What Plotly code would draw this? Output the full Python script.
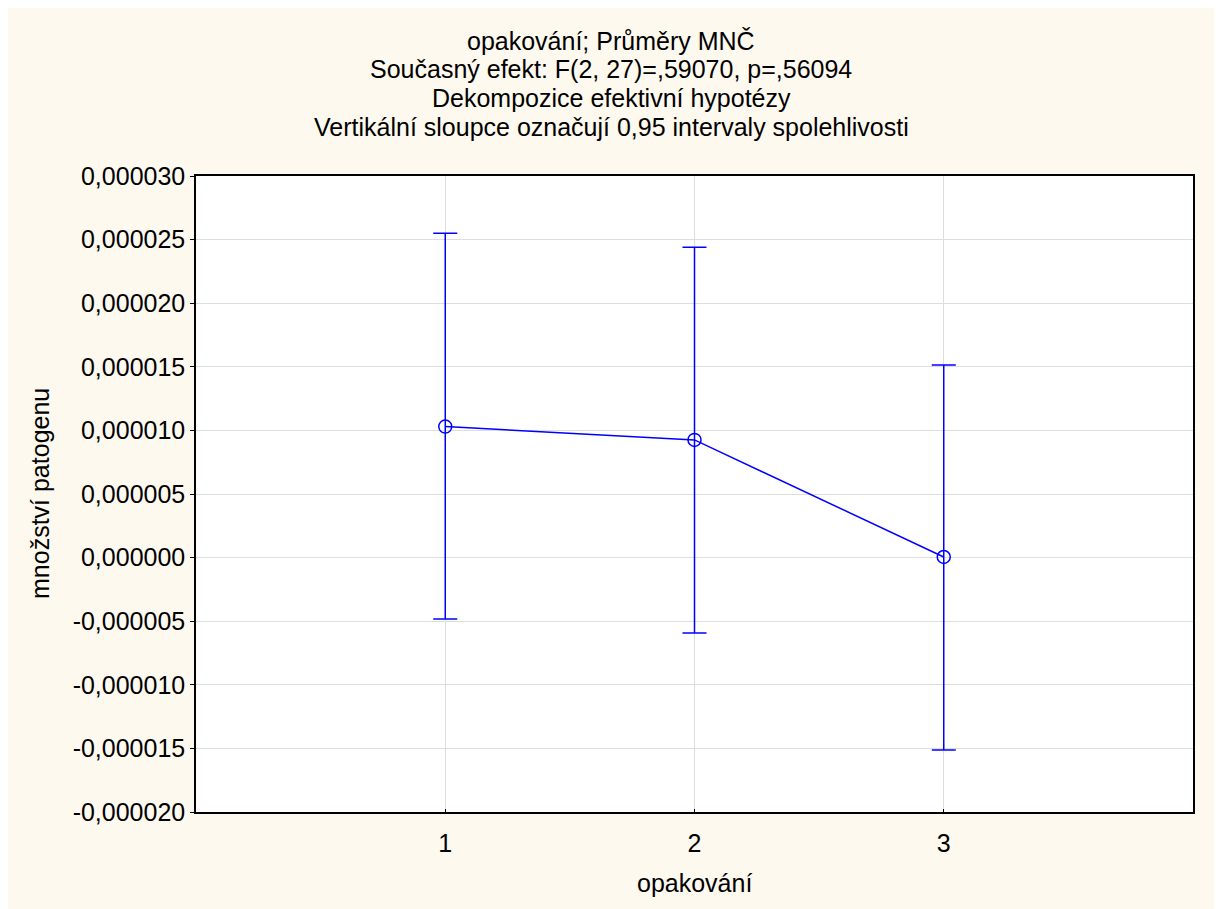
import plotly.graph_objects as go

categories = [1, 2, 3]
means = [0.0000103, 0.00000925, 0.00000005]
upper = [0.0000255, 0.0000244, 0.00001514]
lower = [-0.00000483, -0.00000593, -0.00001513]

ytick_vals = [-0.00002, -0.000015, -0.00001, -0.000005, 0.0, 0.000005, 0.00001, 0.000015, 0.00002, 0.000025, 0.00003]
ytick_text = ["-0,000020", "-0,000015", "-0,000010", "-0,000005", "0,000000", "0,000005",
              "0,000010", "0,000015", "0,000020", "0,000025", "0,000030"]
xtick_vals = [1, 2, 3]
xtick_text = ["1", "2", "3"]

title_lines = [
    "opakování; Průměry MNČ",
    "Současný efekt: F(2, 27)=,59070, p=,56094",
    "Dekompozice efektivní hypotézy",
    "Vertikální sloupce označují 0,95 intervaly spolehlivosti",
]
x_title = "opakování"
y_title = "množství patogenu"

err_plus = [u - m for u, m in zip(upper, means)]
err_minus = [m - l for m, l in zip(means, lower)]

BLUE = "#0000FF"
FONT = "Liberation Sans, Arial, sans-serif"
FS = 25

fig = go.Figure()
fig.add_trace(go.Scatter(
    x=categories, y=means, mode="lines+markers",
    line=dict(color=BLUE, width=1.5),
    marker=dict(symbol="circle-open", size=13, color=BLUE, line=dict(width=1.5, color=BLUE)),
    error_y=dict(type="data", symmetric=False, array=err_plus, arrayminus=err_minus,
                 color=BLUE, thickness=1.5, width=12),
    showlegend=False,
))

OFF = 8  # page body margin
W, H = 1222, 909
# target plot area in page pixels: x 196..1193, y 176..812
L, T = 196 - OFF, 176 - OFF
R = W - (1193 - OFF)
B = H - (812 - OFF)
pw, ph = W - L - R, H - T - B

def px_x(px):
    return (px - OFF - L) / pw

def px_y(py):
    return (H - B - (py - OFF)) / ph

annotations = []
title_y_px = [41, 69, 98, 127]
for line, ypx in zip(title_lines, title_y_px):
    annotations.append(dict(
        text=line, xref="paper", yref="paper",
        x=px_x(611), y=px_y(ypx),
        xanchor="center", yanchor="middle", showarrow=False,
        font=dict(family=FONT, size=FS, color="black"),
    ))
annotations.append(dict(
    text=x_title, xref="paper", yref="paper",
    x=px_x(694), y=px_y(883),
    xanchor="center", yanchor="middle", showarrow=False,
    font=dict(family=FONT, size=FS, color="black"),
))
annotations.append(dict(
    text=y_title, xref="paper", yref="paper",
    x=px_x(40), y=px_y(494), textangle=-90,
    xanchor="center", yanchor="middle", showarrow=False,
    font=dict(family=FONT, size=FS, color="black"),
))

fig.update_layout(
    width=W, height=H,
    margin=dict(l=L, r=R, t=T, b=B),
    paper_bgcolor="#FEF9EF",
    plot_bgcolor="white",
    font=dict(family=FONT, size=FS, color="black"),
    annotations=annotations,
)
fig.update_xaxes(
    range=[0, 4], tickvals=xtick_vals, ticktext=xtick_text,
    showgrid=True, gridcolor="#DDDDDD", gridwidth=1,
    showline=True, linecolor="black", linewidth=1.5, mirror=True,
    ticks="inside", ticklen=3, tickcolor="black",
    ticklabelstandoff=8,
    zeroline=False, tickfont=dict(size=FS),
)
fig.update_yaxes(
    range=[-0.00002, 0.00003], tickvals=ytick_vals, ticktext=ytick_text,
    showgrid=True, gridcolor="#DDDDDD", gridwidth=1,
    showline=True, linecolor="black", linewidth=1.5, mirror=True,
    ticks="outside", ticklen=4, tickcolor="black",
    zeroline=False, tickfont=dict(size=FS),
)

fig.write_html("out.html")
